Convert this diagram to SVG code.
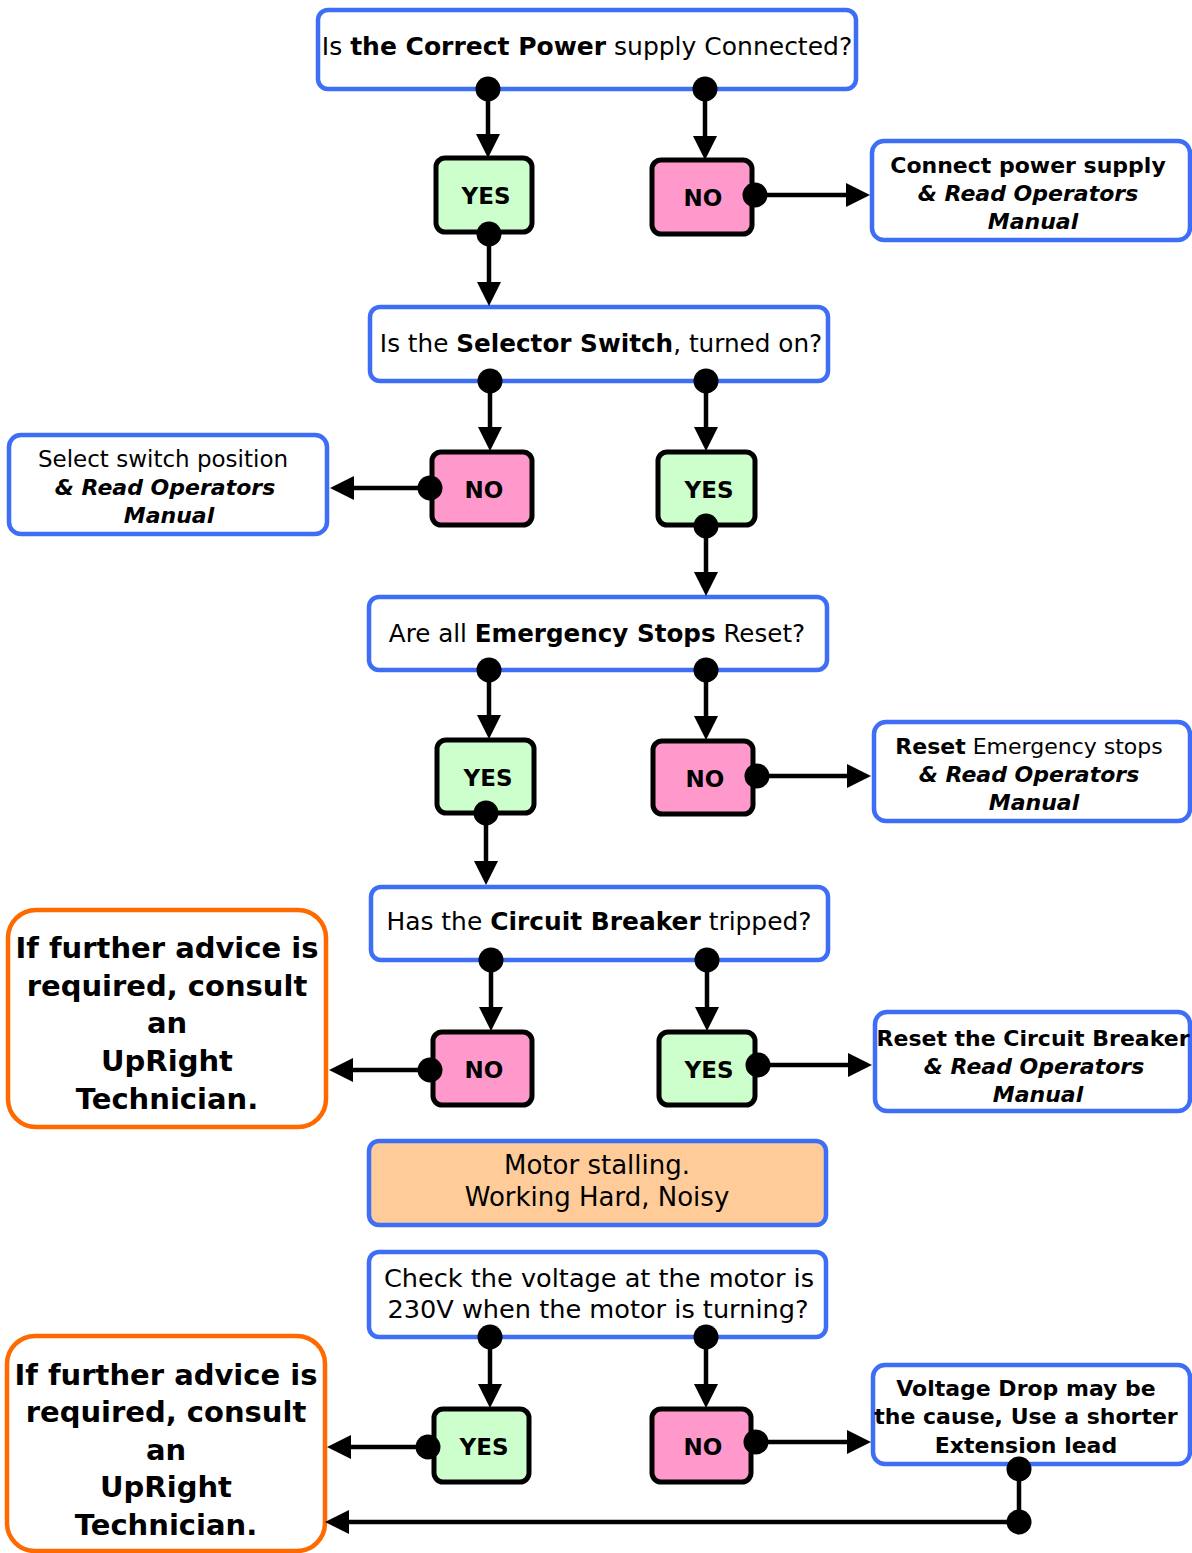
<svg xmlns="http://www.w3.org/2000/svg" width="1192" height="1553" viewBox="0 0 1192 1553">
  <style>
    text { font-family: "DejaVu Sans", "Liberation Sans", sans-serif; fill: #000; text-anchor: middle; }
    .q { fill: #fff; stroke: #3d6ef5; stroke-width: 4.5; }
    .act { fill: #fff; stroke: #3d6ef5; stroke-width: 4.5; }
    .warn { fill: #ffcc99; stroke: #3d6ef5; stroke-width: 4.5; }
    .tech { fill: #fff; stroke: #ff6a00; stroke-width: 4.5; }
    .yes { fill: #ccffcc; stroke: #000; stroke-width: 5; }
    .no { fill: #ff99cc; stroke: #000; stroke-width: 5; }
    .qt { font-size: 25px; }
    .yn { font-size: 23px; font-weight: bold; }
    .at { font-size: 22px; }
    .b { font-weight: bold; }
    .bi { font-weight: bold; font-style: italic; }
    .tt { font-size: 29px; font-weight: bold; }
    .conn path { fill: none; stroke: #000; stroke-width: 4.5; }
    .conn circle { fill: #000; }
  </style>
  <defs>
    <marker id="arr" markerUnits="userSpaceOnUse" markerWidth="24" markerHeight="24" refX="12" refY="12" orient="auto">
      <path d="M0,0 L24,12 L0,24 z" fill="#000"/>
    </marker>
  </defs>

  <!-- question: power supply -->
  <g id="q-power">
    <rect class="q" x="318" y="10" width="538" height="79" rx="10"/>
    <text class="qt" x="587" y="55" style="font-size:25px">Is <tspan class="b">the Correct Power</tspan> supply Connected?</text>
  </g>
  <g id="yes-power">
    <rect class="yes" x="436" y="158" width="96" height="74" rx="9"/>
    <text class="yn" x="486" y="204">YES</text>
  </g>
  <g id="no-power">
    <rect class="no" x="652" y="160" width="100" height="74" rx="9"/>
    <text class="yn" x="703" y="206">NO</text>
  </g>
  <g id="a-power">
    <rect class="act" x="872" y="141" width="318" height="99" rx="12"/>
    <text class="at" x="1028" y="173"><tspan class="b">Connect power supply</tspan></text>
    <text class="at" x="1028" y="201"><tspan class="bi">&amp; Read Operators</tspan></text>
    <text class="at" x="1033" y="229"><tspan class="bi">Manual</tspan></text>
  </g>

  <!-- question: selector switch -->
  <g id="q-selector">
    <rect class="q" x="370" y="307" width="458" height="74" rx="10"/>
    <text class="qt" x="601" y="352" style="font-size:24.7px">Is the <tspan class="b">Selector Switch</tspan>, turned on?</text>
  </g>
  <g id="no-selector">
    <rect class="no" x="432" y="452" width="100" height="73" rx="9"/>
    <text class="yn" x="484" y="498">NO</text>
  </g>
  <g id="yes-selector">
    <rect class="yes" x="658" y="452" width="97" height="73" rx="9"/>
    <text class="yn" x="709" y="498">YES</text>
  </g>
  <g id="a-selector">
    <rect class="act" x="9" y="435" width="318" height="99" rx="12"/>
    <text class="at" x="163" y="467" style="font-size:23px">Select switch position</text>
    <text class="at" x="165" y="495"><tspan class="bi">&amp;  Read Operators</tspan></text>
    <text class="at" x="169" y="523"><tspan class="bi">Manual</tspan></text>
  </g>

  <!-- question: emergency stops -->
  <g id="q-estop">
    <rect class="q" x="369" y="597" width="458" height="73" rx="10"/>
    <text class="qt" x="597" y="642" style="font-size:24.6px">Are all <tspan class="b">Emergency Stops</tspan> Reset?</text>
  </g>
  <g id="yes-estop">
    <rect class="yes" x="437" y="740" width="97" height="73" rx="9"/>
    <text class="yn" x="488" y="786">YES</text>
  </g>
  <g id="no-estop">
    <rect class="no" x="653" y="741" width="100" height="73" rx="9"/>
    <text class="yn" x="705" y="787">NO</text>
  </g>
  <g id="a-estop">
    <rect class="act" x="874" y="722" width="316" height="99" rx="12"/>
    <text class="at" x="1029" y="754"><tspan class="b">Reset</tspan> Emergency stops</text>
    <text class="at" x="1029" y="782"><tspan class="bi">&amp; Read Operators</tspan></text>
    <text class="at" x="1034" y="810"><tspan class="bi">Manual</tspan></text>
  </g>

  <!-- question: circuit breaker -->
  <g id="q-breaker">
    <rect class="q" x="371" y="887" width="457" height="73" rx="10"/>
    <text class="qt" x="599" y="930" style="font-size:24.9px">Has the <tspan class="b">Circuit Breaker</tspan> tripped?</text>
  </g>
  <g id="no-breaker">
    <rect class="no" x="433" y="1032" width="99" height="73" rx="9"/>
    <text class="yn" x="484" y="1078">NO</text>
  </g>
  <g id="yes-breaker">
    <rect class="yes" x="659" y="1032" width="96" height="73" rx="9"/>
    <text class="yn" x="709" y="1078">YES</text>
  </g>
  <g id="a-breaker">
    <rect class="act" x="875" y="1012" width="315" height="99" rx="12"/>
    <text class="at" x="1033" y="1046"><tspan class="b">Reset the Circuit Breaker</tspan></text>
    <text class="at" x="1034" y="1074"><tspan class="bi">&amp; Read Operators</tspan></text>
    <text class="at" x="1038" y="1102"><tspan class="bi">Manual</tspan></text>
  </g>
  <g id="tech-1">
    <rect class="tech" x="8" y="910" width="318" height="217" rx="28"/>
    <text class="tt" x="167" y="958">If further advice is</text>
    <text class="tt" x="167" y="996">required, consult</text>
    <text class="tt" x="167" y="1033">an</text>
    <text class="tt" x="167" y="1071">UpRight</text>
    <text class="tt" x="167" y="1109">Technician.</text>
  </g>

  <!-- symptom -->
  <g id="symptom">
    <rect class="warn" x="369" y="1141" width="457" height="84" rx="10"/>
    <text class="qt" x="597" y="1174" style="font-size:26px">Motor stalling.</text>
    <text class="qt" x="597" y="1206" style="font-size:26px">Working Hard, Noisy</text>
  </g>

  <!-- question: voltage -->
  <g id="q-voltage">
    <rect class="q" x="369" y="1252" width="457" height="85" rx="10"/>
    <text class="qt" x="599" y="1287" style="font-size:25.6px">Check the voltage at the motor is</text>
    <text class="qt" x="598" y="1318" style="font-size:25.6px">230V when the motor is turning?</text>
  </g>
  <g id="yes-voltage">
    <rect class="yes" x="434" y="1409" width="95" height="73" rx="9"/>
    <text class="yn" x="484" y="1455">YES</text>
  </g>
  <g id="no-voltage">
    <rect class="no" x="652" y="1409" width="99" height="73" rx="9"/>
    <text class="yn" x="703" y="1455">NO</text>
  </g>
  <g id="a-voltage">
    <rect class="act" x="873" y="1365" width="317" height="99" rx="12"/>
    <text class="at" x="1026" y="1396"><tspan class="b">Voltage Drop may be</tspan></text>
    <text class="at" x="1026" y="1424"><tspan class="b">the cause, Use a shorter</tspan></text>
    <text class="at" x="1026" y="1453"><tspan class="b">Extension lead</tspan></text>
  </g>
  <g id="tech-2">
    <rect class="tech" x="7" y="1336" width="318" height="215" rx="28"/>
    <text class="tt" x="166" y="1385">If further advice is</text>
    <text class="tt" x="166" y="1422">required, consult</text>
    <text class="tt" x="166" y="1460">an</text>
    <text class="tt" x="166" y="1497">UpRight</text>
    <text class="tt" x="166" y="1535">Technician.</text>
  </g>

  <!-- connectors: dot at the source, arrowhead at the target -->
  <g id="connectors" class="conn">
    <path d="M488,89 V146" marker-end="url(#arr)"/>
    <path d="M705,89 V148" marker-end="url(#arr)"/>
    <path d="M755,195 H858" marker-end="url(#arr)"/>
    <path d="M489,234 V294" marker-end="url(#arr)"/>
    <path d="M490,381 V439" marker-end="url(#arr)"/>
    <path d="M706,381 V439" marker-end="url(#arr)"/>
    <path d="M430,488 H342" marker-end="url(#arr)"/>
    <path d="M706,526 V584" marker-end="url(#arr)"/>
    <path d="M489,670 V727" marker-end="url(#arr)"/>
    <path d="M706,670 V728" marker-end="url(#arr)"/>
    <path d="M486,813 V873" marker-end="url(#arr)"/>
    <path d="M757,776 H859" marker-end="url(#arr)"/>
    <path d="M491,960 V1019" marker-end="url(#arr)"/>
    <path d="M707,960 V1019" marker-end="url(#arr)"/>
    <path d="M430,1070 H341" marker-end="url(#arr)"/>
    <path d="M758,1065 H860" marker-end="url(#arr)"/>
    <path d="M490,1337 V1396" marker-end="url(#arr)"/>
    <path d="M706,1337 V1396" marker-end="url(#arr)"/>
    <path d="M428,1447 H339" marker-end="url(#arr)"/>
    <path d="M756,1442 H859" marker-end="url(#arr)"/>
    <path d="M1019,1469 V1522 H337" marker-end="url(#arr)"/>

    <circle cx="488" cy="89" r="12.5"/>
    <circle cx="705" cy="89" r="12.5"/>
    <circle cx="755" cy="195" r="12.5"/>
    <circle cx="489" cy="234" r="12.5"/>
    <circle cx="490" cy="381" r="12.5"/>
    <circle cx="706" cy="381" r="12.5"/>
    <circle cx="430" cy="488" r="12.5"/>
    <circle cx="706" cy="526" r="12.5"/>
    <circle cx="489" cy="670" r="12.5"/>
    <circle cx="706" cy="670" r="12.5"/>
    <circle cx="486" cy="813" r="12.5"/>
    <circle cx="757" cy="776" r="12.5"/>
    <circle cx="491" cy="960" r="12.5"/>
    <circle cx="707" cy="960" r="12.5"/>
    <circle cx="430" cy="1070" r="12.5"/>
    <circle cx="758" cy="1065" r="12.5"/>
    <circle cx="490" cy="1337" r="12.5"/>
    <circle cx="706" cy="1337" r="12.5"/>
    <circle cx="428" cy="1447" r="12.5"/>
    <circle cx="756" cy="1442" r="12.5"/>
    <circle cx="1019" cy="1469" r="12.5"/>
    <circle cx="1019" cy="1522" r="12.5"/>
  </g>
</svg>
